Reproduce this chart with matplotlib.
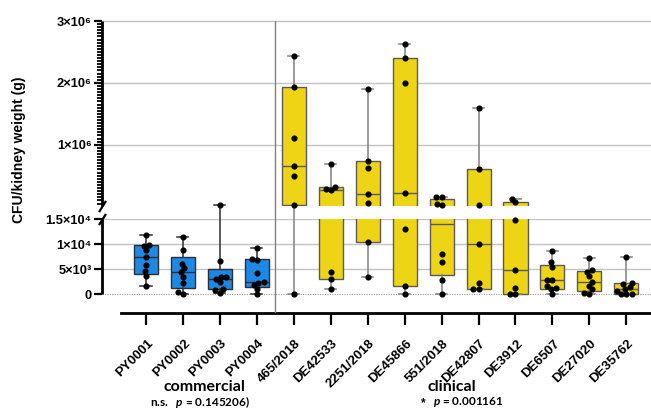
import numpy as np
import matplotlib
matplotlib.use('Agg')
import matplotlib.pyplot as plt
from matplotlib.transforms import ScaledTranslation, blended_transform_factory

plt.rcParams['font.family'] = ['Liberation Sans', 'DejaVu Sans']
plt.rcParams['font.weight'] = 'bold'
plt.rcParams['mathtext.fontset'] = 'custom'
plt.rcParams['mathtext.rm'] = 'Lato:bold'
plt.rcParams['mathtext.bf'] = 'Lato:bold'
plt.rcParams['mathtext.it'] = 'Lato:bold:italic'
plt.rcParams['mathtext.default'] = 'rm'

# ---------------- data ----------------
strains = ['PY0001', 'PY0002', 'PY0003', 'PY0004', '465/2018', 'DE42533',
           '2251/2018', 'DE45866', '551/2018', 'DE42807', 'DE3912',
           'DE6507', 'DE27020', 'DE35762']
n_commercial = 4

py0001 = [11800, 9800, 9750, 8830, 7500, 5900, 4630, 3600, 1630]
py0002 = [11470, 8870, 6100, 5200, 4400, 3450, 2200, 450, 30]
py0003 = [21500, 6600, 3470, 3470, 3070, 2400, 1130, 800, 270]
py0004 = [9300, 7130, 6800, 4270, 2470, 2270, 1930, 1130, 0]
s465_2018 = [2.44e6, 1.93e6, 1.11e6, 6.6e5, 4.9e5, 3.1e4, 0]
de42533 = [6.89e5, 3.17e5, 2.9e5, 2.69e5, 4400, 3000, 1000]
s2251_2018 = [1.90e6, 7.38e5, 6.24e5, 2.04e5, 5.6e4, 10400, 3400]
de45866 = [2.63e6, 2.40e6, 2.0e6, 2.15e5, 13000, 1700, 0]
s551_2018 = [1.56e5, 1.50e5, 4.0e4, 2.0e4, 8120, 6460, 2860, 0]
de42807 = [1.59e6, 6.04e5, 2.1e4, 10060, 2330, 1120, 1000]
de3912 = [1.25e5, 6.9e4, 14860, 4800, 1260, 0, 0]
de6507 = [8600, 6400, 5400, 2860, 2860, 1730, 1200, 1000, 0]
de27020 = [7330, 4870, 4530, 3600, 2460, 1730, 1000, 200, 150]
de35762 = [7460, 2330, 2000, 1400, 1000, 730, 100, 0, 0]

values = [py0001, py0002, py0003, py0004, s465_2018, de42533, s2251_2018,
          de45866, s551_2018, de42807, de3912, de6507, de27020, de35762]

major_ticks = [0, 5e3, 1e4, 1.5e4, 1e6, 2e6, 3e6]
major_labels = ['0', '5×10³', '1×10⁴', '1.5×10⁴', '1×10⁶', '2×10⁶', '3×10⁶']
p_commercial = '0.145206'
p_clinical = '0.001161'

# ---------------- broken-axis scale ----------------
BRK = 1.5e4
LOW_PX = 75.0 / BRK          # px per unit below the break
GAP0, GAP1 = 75.0, 88.6      # px positions of the gap
TOP_PX = 61.85 / 1e6         # px per unit above the break


def fwd(v):
    v = np.asarray(v, dtype=float)
    return np.where(v <= BRK, v * LOW_PX, GAP1 + (v - BRK) * TOP_PX)


def inv(p):
    p = np.asarray(p, dtype=float)
    return np.where(p <= GAP0, p / LOW_PX,
                    np.where(p < GAP1, BRK, BRK + (p - GAP1) / TOP_PX))


W, H = 651, 409
fig = plt.figure(figsize=(W / 100, H / 100), dpi=100)
ax = fig.add_axes([102 / W, (H - 313.3) / H, (W - 102) / W, (313.3 - 21) / H])
ax.set_yscale('function', functions=(fwd, inv))
ax.set_ylim(float(inv(-19.0)), 3e6)
ax.set_xlim(-1.19, 13.667)

# gridlines
for t in major_ticks[1:]:
    ax.axhline(t, color='#c3c3c3', lw=1.0, zorder=0.5, clip_on=False)
ax.axhline(0, color='#9a9a9a', lw=0.8, ls=(0, (1, 1.2)), zorder=0.6)

# box stats (Prism-style quartiles)
stats = []
for vals in values:
    a = np.asarray(vals, dtype=float)
    q1, med, q3 = np.percentile(a, [25, 50, 75], method='weibull')
    stats.append(dict(med=med, q1=q1, q3=q3, whislo=a.min(), whishi=a.max(), fliers=[]))

pos = np.arange(len(strains))
bp = ax.bxp(stats, positions=pos, widths=0.65, patch_artist=True,
            showfliers=False, capwidths=0.3)

blue, yellow = '#1E88E5', '#EDD515'
for i in range(len(strains)):
    comm = i < n_commercial
    fc = blue if comm else yellow
    ec = '#2e2e2e' if comm else '#5a5a5a'
    wc = '#2e2e2e' if comm else '#808080'
    box = bp['boxes'][i]
    box.set_facecolor(fc)
    box.set_edgecolor(ec)
    box.set_linewidth(1.0)
    box.set_zorder(2)
    bp['medians'][i].set_color(ec)
    bp['medians'][i].set_linewidth(1.0)
    bp['medians'][i].set_zorder(2.2)
    for w in bp['whiskers'][2 * i:2 * i + 2] + bp['caps'][2 * i:2 * i + 2]:
        w.set_color(wc)
        w.set_linewidth(1.1)
        w.set_zorder(3)

# white gap band across the plot
f0 = (GAP0 + 0.6 + 19.0) / (273.3 + 19.0)
f1 = (GAP1 - 0.3 + 19.0) / (273.3 + 19.0)
band = plt.Rectangle((0, f0), 1, f1 - f0, transform=ax.transAxes,
                     facecolor='white', edgecolor='none', zorder=2.5)
ax.add_patch(band)

# separator between commercial and clinical
ax.axvline(n_commercial - 0.5, color='#808080', lw=1.0, zorder=3)

# data points (simple beeswarm in pixel space)
DIAM = 5.2
XPX = 36.95


def swarm(vals):
    p = fwd(vals)
    order = np.argsort(p, kind='stable')
    xs = np.zeros(len(p))
    placed = []
    for k in order:
        cands = [0.0]
        intervals = []
        for j in placed:
            dy = p[k] - p[j]
            if abs(dy) < DIAM:
                dx = np.sqrt(DIAM ** 2 - dy ** 2)
                intervals.append((xs[j] - dx, xs[j] + dx))
                cands += [xs[j] - dx, xs[j] + dx]
        cands = sorted(cands, key=lambda c: (abs(c), c))
        for c in cands:
            if all(not (lo + 1e-6 < c < hi - 1e-6) for lo, hi in intervals):
                xs[k] = c
                break
        placed.append(k)
    return xs / XPX


for i, vals in enumerate(values):
    off = swarm(vals)
    ax.plot(i + off, vals, 'o', ms=3.4, color='black', mec='black',
            zorder=4, clip_on=False)

# axes / spines
for s in ['top', 'right', 'left']:
    ax.spines[s].set_visible(False)
ax.spines['bottom'].set_linewidth(2.0)
ax.spines['bottom'].set_bounds(-0.68, 13.667)

bt = blended_transform_factory(ax.transAxes, ax.transData)
ax.plot([0, 0], [0, BRK], color='black', lw=2.0, transform=bt, clip_on=False,
        solid_capstyle='butt', zorder=5)
ax.plot([0, 0], [BRK * 1.0001, 3e6], color='black', lw=2.0, transform=bt,
        clip_on=False, solid_capstyle='butt', zorder=5)
slash = [(-1.0, -1.6), (1.0, 1.6)]
ax.plot([0, 0], [BRK * 1.0001, BRK], ls='none', marker=slash, ms=8, mew=1.6,
        color='black', transform=bt, clip_on=False, zorder=5)

ax.set_yticks(major_ticks)
ax.set_yticklabels(major_labels)
minor = [v for v in np.arange(5e4, 3e6, 5e4) if v % 1e6 != 0]
ax.set_yticks(minor, minor=True)
ax.tick_params(axis='y', which='major', length=6, width=1.6, pad=1.5,
               labelsize=9.3, color='black')
ax.tick_params(axis='y', which='minor', length=3.5, width=1.3, color='black')
for lab in ax.get_yticklabels():
    lab.set_fontweight('bold')

ax.set_xticks(pos)
ax.set_xticklabels(strains, rotation=45, ha='right', va='center',
                   rotation_mode='anchor', fontsize=9.5, fontweight='bold')
ax.tick_params(axis='x', length=8.5, width=1.6, pad=12, color='black')
for lab in ax.get_xticklabels():
    lab.set_transform(lab.get_transform() + ScaledTranslation(5 / 100, 0, fig.dpi_scale_trans))

fig.text(19 / W, 1 - 150 / H, 'CFU/kidney weight (g)', rotation=90,
         ha='center', va='center', fontsize=10, fontweight='bold')

fig.text(204 / W, 1 - 387 / H, 'commercial', ha='center', va='center',
         fontsize=11.5, fontweight='bold', family='Lato')
fig.text(200 / W, 1 - 402 / H, 'n.s.   $\\mathit{p}$ = ' + p_commercial + ')',
         ha='center', va='center', fontsize=8.5, fontweight='bold', family='Lato')
fig.text(452 / W, 1 - 387 / H, 'clinical', ha='center', va='center',
         fontsize=11.5, fontweight='bold', family='Lato')
fig.text(423 / W, 1 - 403 / H, '*', ha='center', va='center',
         fontsize=8.5, fontweight='bold', family='Liberation Sans')
fig.text(468 / W, 1 - 402 / H, '$\\mathit{p}$ = ' + p_clinical,
         ha='center', va='center', fontsize=8.5, fontweight='bold', family='Lato')

fig.savefig('out.png', dpi=100)
